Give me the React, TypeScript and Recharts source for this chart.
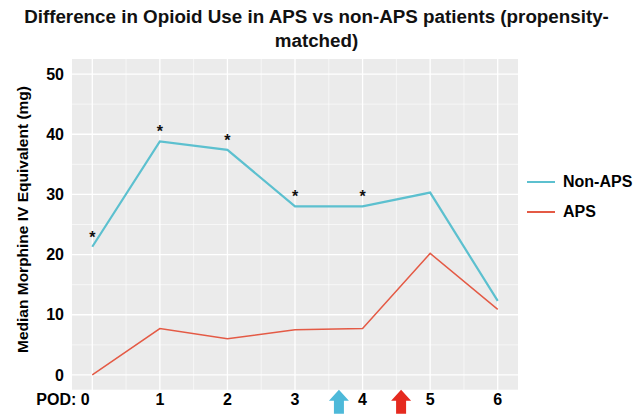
import React from 'react';
import { LineChart, Line, XAxis, YAxis, CartesianGrid, ReferenceDot, LabelList } from 'recharts';

const pod = [0, 1, 2, 3, 4, 5, 6];
const nonAps = [21.3, 38.8, 37.4, 28.0, 28.0, 30.3, 12.3];
const aps = [0, 7.7, 6.0, 7.5, 7.7, 20.2, 10.9];
const significant = [true, true, true, true, true, false, false];
const yTicks = [0, 10, 20, 30, 40, 50];
const yMinor = [-2.5, 5, 15, 25, 35, 45];
const xMinor = [0.5, 1.5, 2.5, 3.5, 4.5, 5.5];
const arrows = [
  { x: 3.65, color: '#4db9d9' },
  { x: 4.57, color: '#e52a1f' },
];
const legendItems = [
  { name: 'Non-APS', color: '#5cc0cf' },
  { name: 'APS', color: '#e45a45' },
];

const NON_APS = '#5cc0cf';
const APS = '#e45a45';
const FONT = '"Liberation Sans", Arial, sans-serif';

const data = pod.map((p, i) => ({ pod: p, nonAps: nonAps[i], aps: aps[i], sig: significant[i] }));

// first tick carries the "POD:" prefix and sits a little left of its point
const XTick = ({ x, y, payload }: any) => {
  const first = payload.value === 0;
  const tx = first ? x - 7 : x;
  return (
    <g>
      {first && (
        <text x={tx - 9} y={y + 7} textAnchor="end" fontFamily={FONT} fontWeight="bold" fontSize={16} fill="#000">
          POD:
        </text>
      )}
      <text x={tx} y={y + 7} textAnchor="middle" fontFamily={FONT} fontWeight="bold" fontSize={16} fill="#000">
        {payload.value}
      </text>
    </g>
  );
};

const Star = ({ x, y, index }: any) => {
  if (!significant[index]) return null;
  return (
    <text x={x} y={y - 4} textAnchor="middle" fontFamily={FONT} fontWeight="bold" fontSize={16} fill="#111">
      *
    </text>
  );
};

const Arrow = (color: string) => ({ cx, cy }: any) => (
  <polygon
    points={`${cx},${cy - 13} ${cx + 10},${cy - 2} ${cx + 5},${cy - 2} ${cx + 5},${cy + 11} ${cx - 5},${cy + 11} ${cx - 5},${cy - 2} ${cx - 10},${cy - 2}`}
    fill={color}
  />
);

export default function App() {
  return (
    <div style={{ position: 'absolute', left: 0, top: 0, width: 633, height: 415, background: '#fff' }}>
      <div
        style={{
          position: 'absolute',
          top: 5,
          left: 0,
          width: 633,
          textAlign: 'center',
          fontFamily: FONT,
          fontWeight: 'bold',
          fontSize: 18.8,
          lineHeight: '24px',
          color: '#111',
        }}
      >
        Difference in Opioid Use in APS vs non-APS patients (propensity-
        <br />
        matched)
      </div>
      <LineChart width={633} height={415} data={data} margin={{ top: 59, right: 115, left: 0, bottom: 0 }}>
        <CartesianGrid
          fill="#ebebeb"
          stroke="#ffffff"
          strokeWidth={0.6}
          horizontalValues={yMinor}
          verticalValues={xMinor}
        />
        <CartesianGrid
          stroke="#ffffff"
          strokeWidth={1.3}
          horizontalValues={yTicks}
          verticalValues={pod}
        />
        <XAxis
          dataKey="pod"
          type="number"
          domain={[-0.3, 6.3]}
          ticks={pod}
          height={25}
          axisLine={false}
          tickLine={false}
          tick={<XTick />}
          interval={0}
        />
        <YAxis
          type="number"
          domain={[-2.5, 52.5]}
          ticks={yTicks}
          width={72}
          axisLine={false}
          tickLine={false}
          tick={{ fontFamily: FONT, fontWeight: 'bold', fontSize: 16, fill: '#000' }}
          tickMargin={2}
          label={{
            value: 'Median Morphine IV Equivalent (mg)',
            angle: -90,
            position: 'insideLeft',
            offset: 22,
            dy: -5,
            style: { fontFamily: FONT, fontWeight: 'bold', fontSize: 15.5, fill: '#000', textAnchor: 'middle' },
          }}
        />
        <Line
          type="linear"
          dataKey="nonAps"
          name="Non-APS"
          stroke={NON_APS}
          strokeWidth={2.2}
          dot={false}
          activeDot={false}
          isAnimationActive={false}
        >
          <LabelList dataKey="nonAps" content={<Star />} />
        </Line>
        <Line
          type="linear"
          dataKey="aps"
          name="APS"
          stroke={APS}
          strokeWidth={1.5}
          dot={false}
          activeDot={false}
          isAnimationActive={false}
        />
        {arrows.map(a => (
          <ReferenceDot key={a.x} x={a.x} y={-4.6} ifOverflow="visible" shape={Arrow(a.color)} />
        ))}
      </LineChart>
      <div
        style={{
          position: 'absolute',
          left: 527,
          top: 167,
          fontFamily: FONT,
          fontWeight: 'bold',
          fontSize: 16,
          color: '#000',
        }}
      >
        {legendItems.map(item => (
          <div key={item.name} style={{ display: 'flex', alignItems: 'center', height: 30 }}>
            <div style={{ width: 28, height: 2, background: item.color, marginRight: 8 }} />
            <span>{item.name}</span>
          </div>
        ))}
      </div>
    </div>
  );
}
